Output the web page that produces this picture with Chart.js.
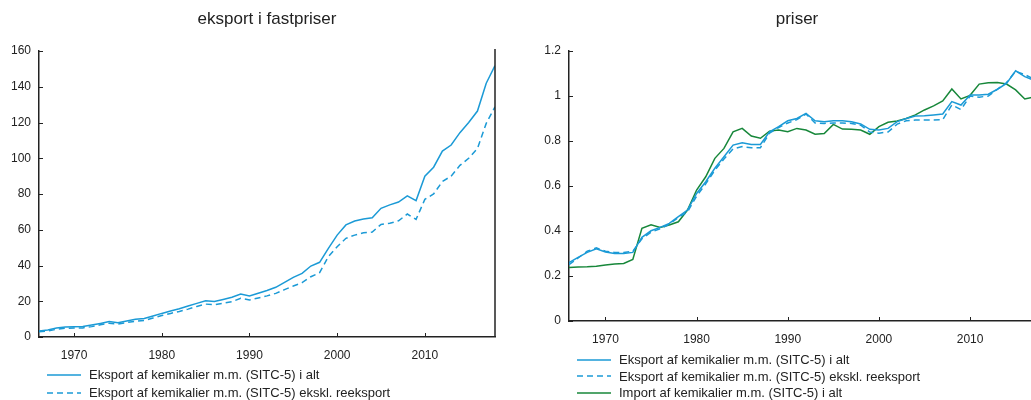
<!DOCTYPE html>
<html>
<head>
<meta charset="utf-8">
<script src="https://cdn.jsdelivr.net/npm/chart.js@4/dist/chart.umd.min.js"></script>
<style>
    html, body { margin: 0; padding: 0; background: #fff; }
    body { width: 1031px; height: 400px; overflow: hidden; position: relative; font-family: "Liberation Sans", Arial, sans-serif; }
    #leftBox { position: absolute; left: 0; top: 0; width: 520px; height: 400px; }
    #rightBox { position: absolute; left: 520px; top: 0; width: 554px; height: 400px; }
    .title { position: absolute; top: 9px; font-size: 17px; line-height: 20px; color: #222; transform: translateX(-50%); white-space: nowrap; }
    .legend { position: absolute; font-size: 13px; color: #222; }
    .legend div { white-space: nowrap; }
    #leftLegend div { height: 18px; line-height: 18px; }
    #rightLegend div { height: 16.5px; line-height: 16.5px; }
    .legend svg { vertical-align: middle; margin-right: 8px; margin-top: -2px; }
</style>
</head>
<body>
<div id="leftBox"><canvas id="fastpriser"></canvas></div>
<div id="rightBox"><canvas id="priser"></canvas></div>
<div class="title" style="left:267px;">eksport i fastpriser</div>
<div class="title" style="left:797px;">priser</div>
<div class="legend" id="leftLegend" style="left:47px; top:366px;"></div>
<div class="legend" id="rightLegend" style="left:577px; top:352px;"></div>
<script>
var years = [1966,1967,1968,1969,1970,1971,1972,1973,1974,1975,
    1976,1977,1978,1979,1980,1981,1982,1983,1984,1985,
    1986,1987,1988,1989,1990,1991,1992,1993,1994,1995,
    1996,1997,1998,1999,2000,2001,2002,2003,2004,2005,
    2006,2007,2008,2009,2010,2011,2012,2013,2014,2015,
    2016,2017,2018];
var yearTicks = [1970,1980,1990,2000,2010];

// eksport i fastpriser
var eksportIAlt = [3.4,3.9,5.0,5.6,5.8,5.9,6.7,7.6,8.6,8.0,
    9.0,9.9,10.3,11.7,13.2,14.5,15.8,17.3,18.8,20.3,
    19.9,21.0,22.2,24.0,22.9,24.5,26.0,27.8,30.6,33.4,
    35.6,39.7,41.8,49.6,57.0,62.7,64.9,66.0,66.7,72.0,
    73.9,75.5,79.0,76.3,90.0,95.0,104.0,107.4,114.3,120.0,
    126.4,142.0,151.8];
var eksportEkskl = [3.0,3.4,4.3,4.9,5.0,5.1,5.8,6.8,7.7,7.2,
    8.1,8.8,9.2,10.6,12.0,13.2,14.3,15.6,17.1,18.4,
    18.1,18.9,19.7,21.7,20.7,21.8,23.0,24.4,26.5,28.5,
    30.4,33.7,36.0,45.0,50.5,55.2,57.0,58.3,58.7,63.0,
    63.6,65.0,68.8,65.8,77.0,80.0,87.0,90.0,96.0,100.0,
    105.5,119.5,128.8];

// priser
var prisEksportIAlt = [0.259,0.283,0.305,0.321,0.307,0.300,0.300,0.305,0.372,0.401,
    0.416,0.434,0.464,0.493,0.567,0.619,0.679,0.730,0.782,0.792,
    0.785,0.785,0.841,0.864,0.890,0.900,0.923,0.890,0.886,0.890,
    0.890,0.886,0.876,0.852,0.849,0.856,0.886,0.900,0.911,0.912,
    0.916,0.920,0.975,0.960,1.004,1.004,1.008,1.030,1.056,1.112,
    1.086,1.070,1.055];
var prisEksportEkskl = [0.250,0.280,0.310,0.325,0.310,0.305,0.305,0.310,0.365,0.395,
    0.410,0.430,0.460,0.485,0.555,0.610,0.670,0.720,0.765,0.775,
    0.770,0.770,0.835,0.860,0.880,0.895,0.920,0.880,0.878,0.880,
    0.880,0.878,0.870,0.840,0.835,0.840,0.875,0.890,0.893,0.893,
    0.893,0.895,0.960,0.940,1.000,0.995,1.000,1.030,1.060,1.110,
    1.095,1.075,1.060];
var prisImport = [0.238,0.240,0.241,0.243,0.249,0.253,0.256,0.274,0.412,0.428,
    0.416,0.427,0.441,0.493,0.582,0.641,0.723,0.767,0.841,0.856,
    0.822,0.812,0.844,0.849,0.841,0.856,0.849,0.830,0.833,0.874,
    0.853,0.852,0.849,0.830,0.864,0.883,0.889,0.900,0.916,0.938,
    0.956,0.978,1.031,0.987,1.003,1.053,1.059,1.060,1.053,1.027,
    0.987,0.996,1.000];

var labelIAlt = "Eksport af kemikalier m.m. (SITC-5) i alt";
var labelEkskl = "Eksport af kemikalier m.m. (SITC-5) ekskl. reeksport";
var labelImport = "Import af kemikalier m.m. (SITC-5) i alt";

var blue = "#1b9ad6";
var green = "#17873a";
var axisColor = "#222";

Chart.defaults.font.family = '"Liberation Sans", Arial, sans-serif';
Chart.defaults.font.size = 12;
Chart.defaults.color = "#222";

function toPoints(vals) {
    return vals.map(function(v, i) { return {x: years[i], y: v}; });
}

// small ticks pointing into the plot, plus optional right frame line
var innerTicks = {
    id: "innerTicks",
    afterDraw: function(chart, args, opts) {
        var ctx = chart.ctx, a = chart.chartArea;
        var xs = chart.scales.x, ys = chart.scales.y;
        ctx.save();
        ctx.strokeStyle = axisColor;
        ctx.lineWidth = 1;
        xs.ticks.forEach(function(t) {
            var px = Math.round(xs.getPixelForValue(t.value)) + 0.5;
            ctx.beginPath();
            ctx.moveTo(px, a.bottom);
            ctx.lineTo(px, a.bottom - 4);
            ctx.stroke();
        });
        ys.ticks.forEach(function(t) {
            var py = Math.round(ys.getPixelForValue(t.value)) + 0.5;
            ctx.beginPath();
            ctx.moveTo(a.left, py);
            ctx.lineTo(a.left + 4, py);
            ctx.stroke();
        });
        if (opts.rightBorder) {
            ctx.lineWidth = 1.5;
            ctx.beginPath();
            ctx.moveTo(a.right, a.top - 2);
            ctx.lineTo(a.right, a.bottom);
            ctx.stroke();
        }
        ctx.restore();
    }
};

function makeOptions(yMax, yStep, yWidth, yFmt, pad, rightBorder) {
    return {
        responsive: true,
        maintainAspectRatio: false,
        animation: false,
        layout: { padding: pad },
        plugins: {
            legend: { display: false },
            tooltip: { enabled: false },
            title: { display: false },
            innerTicks: { rightBorder: rightBorder }
        },
        elements: { point: { radius: 0 }, line: { tension: 0, borderWidth: 1.5 } },
        scales: {
            x: {
                type: "linear",
                min: years[0],
                max: years[years.length - 1],
                afterBuildTicks: function(s) { s.ticks = yearTicks.map(function(v) { return {value: v}; }); },
                afterFit: function(s) { s.height = 30; },
                grid: { display: false, drawTicks: false },
                border: { display: true, color: axisColor, width: 1.5 },
                ticks: { padding: 11, maxRotation: 0, callback: function(v) { return String(v); } }
            },
            y: {
                min: 0,
                max: yMax,
                afterFit: function(s) { s.width = yWidth; },
                grid: { display: false, drawTicks: false },
                border: { display: true, color: axisColor, width: 1.5 },
                ticks: { stepSize: yStep, padding: 8, callback: yFmt }
            }
        }
    };
}

new Chart(document.getElementById("fastpriser"), {
    type: "line",
    data: {
        datasets: [
            { label: labelIAlt, data: toPoints(eksportIAlt), borderColor: blue, backgroundColor: blue },
            { label: labelEkskl, data: toPoints(eksportEkskl), borderColor: blue, backgroundColor: blue, borderDash: [6, 4] }
        ]
    },
    options: makeOptions(160, 20, 39,
        function(v) { return String(v); },
        { left: 0, right: 25, top: 51, bottom: 33 }, true),
    plugins: [innerTicks]
});

new Chart(document.getElementById("priser"), {
    type: "line",
    data: {
        datasets: [
            { label: labelIAlt, data: toPoints(prisEksportIAlt), borderColor: blue, backgroundColor: blue },
            { label: labelEkskl, data: toPoints(prisEksportEkskl), borderColor: blue, backgroundColor: blue, borderDash: [6, 4] },
            { label: labelImport, data: toPoints(prisImport), borderColor: green, backgroundColor: green }
        ]
    },
    options: makeOptions(1.2, 0.2, 49,
        function(v) { return String(+(+v).toFixed(1)); },
        { left: 0, right: 31, top: 51, bottom: 49 }, false),
    plugins: [innerTicks]
});

function buildLegend(id, items) {
    var box = document.getElementById(id);
    items.forEach(function(it) {
        var row = document.createElement("div");
        var dash = it.dash ? ' stroke-dasharray="6 4"' : '';
        row.innerHTML = '<svg width="34" height="4"><line x1="0" y1="2" x2="34" y2="2" stroke="' + it.color +
            '" stroke-width="1.5"' + dash + '/></svg>' + it.label;
        box.appendChild(row);
    });
}
buildLegend("leftLegend", [
    { label: labelIAlt, color: blue },
    { label: labelEkskl, color: blue, dash: true }
]);
buildLegend("rightLegend", [
    { label: labelIAlt, color: blue },
    { label: labelEkskl, color: blue, dash: true },
    { label: labelImport, color: green }
]);
</script>
</body>
</html>
